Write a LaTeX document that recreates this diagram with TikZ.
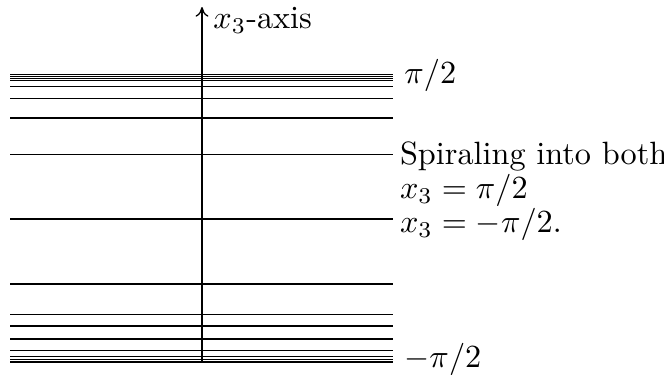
\documentclass[tikz,border=0pt]{standalone}
\usepackage{amsmath,amssymb}
\usepackage{tikz}
\usetikzlibrary{arrows.meta,positioning}
\tikzset{
  lvl/.style={black},
  lab/.style={right,align=left},
  ar/.style={-{To[length=3pt,width=4pt]}}
}
\begin{document}
\begin{tikzpicture}[x=0.31pt,y=-0.31pt]
\useasboundingbox (0,0) rectangle (664,381);
% levels of the orbit, crowding at both ends
\foreach \h in {74.3,76.3,78.5,80.8,86.7,98.7,118,154.7,219,284,314.5,326,339,350.5,356.5,359.5,362}
  \draw[lvl] (10,\h) -- (393,\h);
\coordinate (base) at (202,362);
\coordinate (tip) at (202,7);
\draw[ar] (base) -- (tip);
\node[lab] (axlbl) at (202,20) {$x_3$-axis};
\node[lab] (top) at (393,75) {$\pi/2$};
\node[lab] (bot) at (393,359) {$-\pi/2$};
\node[lab,inner sep=2.6pt] (note) at (391,191) {Spiraling into both\\[-1.4pt] $x_3=\pi/2$\\[-1.4pt] $x_3=-\pi/2$.};
\end{tikzpicture}
\end{document}
